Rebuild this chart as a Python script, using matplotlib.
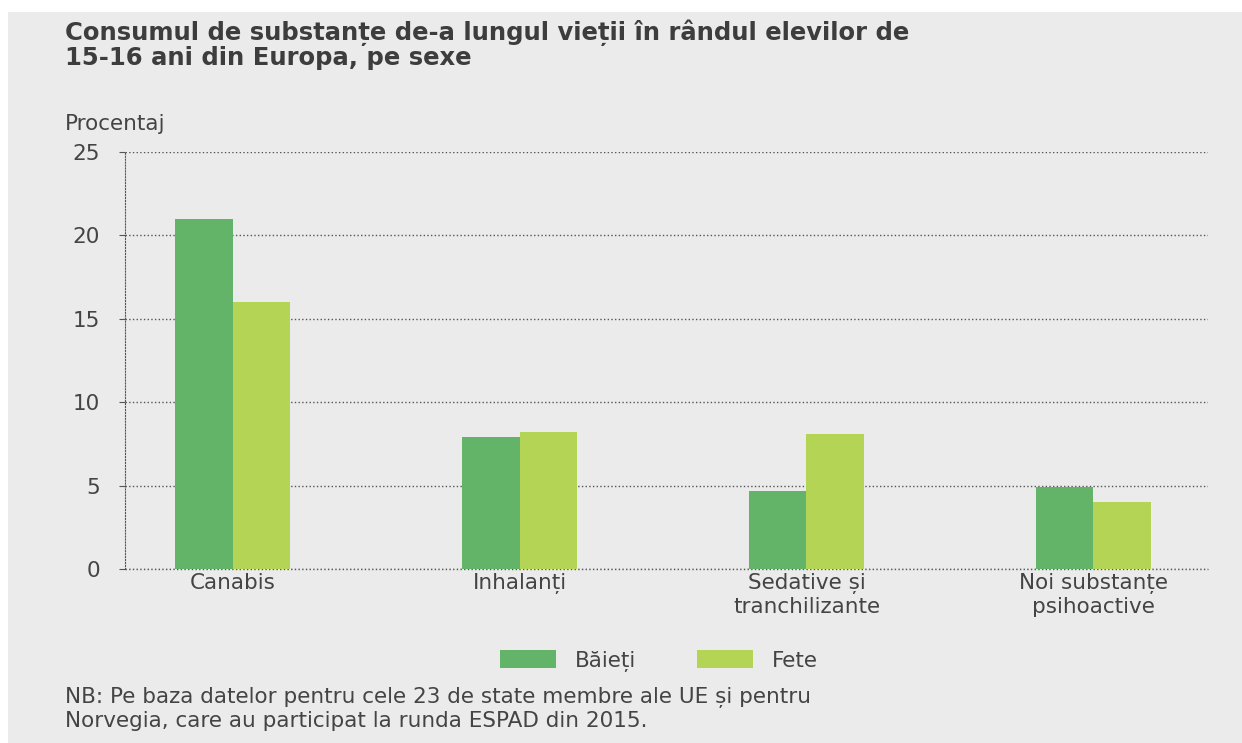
import numpy as np
import matplotlib.pyplot as plt
from matplotlib.patches import Rectangle

categories = ['Canabis', 'Inhalanți', 'Sedative și\ntranchilizante', 'Noi substanțe\npsihoactive']
baieti = [21.0, 7.9, 4.7, 4.9]
fete = [16.0, 8.2, 8.1, 4.0]
series_names = ['Băieți', 'Fete']
yticks = [0, 5, 10, 15, 20, 25]

bg = '#ebebeb'
c_baieti = '#63b469'
c_fete = '#b4d455'
txt = '#444444'
fs = 15.5

plt.rcParams['font.family'] = ['DejaVu Sans']

fig = plt.figure(figsize=(12.42, 7.43), dpi=100)
fig.patch.set_facecolor('white')
fig.patches.append(Rectangle((8 / 1242, 0), 1 - 8 / 1242, 1 - 12 / 743,
                             transform=fig.transFigure, facecolor=bg,
                             edgecolor='none', zorder=-1))

ax = fig.add_axes([125 / 1242, 1 - 569 / 743, (1208 - 125) / 1242, (569 - 152) / 743])
ax.set_facecolor(bg)

x = np.arange(len(categories))
w = 0.2
ax.bar(x - w / 2, baieti, w, color=c_baieti, label=series_names[0], zorder=3)
ax.bar(x + w / 2, fete, w, color=c_fete, label=series_names[1], zorder=3)

ax.set_xlim(-0.376, 3.40)
ax.set_ylim(0, 25)
ax.set_yticks(yticks)
ax.set_xticks(x)
ax.set_xticklabels(categories, fontsize=fs, color=txt, linespacing=1.15)
ax.tick_params(axis='y', labelsize=fs, labelcolor=txt, length=4, color='#555555', pad=14)
ax.tick_params(axis='x', length=0, pad=3)

ax.grid(axis='y', linestyle=':', color='#555555', linewidth=1, zorder=1)
ax.axhline(0, linestyle=':', color='#555555', linewidth=1, zorder=1, clip_on=False)
for s in ['top', 'right', 'bottom']:
    ax.spines[s].set_visible(False)
ax.spines['left'].set_linestyle(':')
ax.spines['left'].set_color('#555555')

fig.text(65 / 1242, 1 - 19 / 743, 'Consumul de substanțe de-a lungul vieții în rândul elevilor de\n15-16 ani din Europa, pe sexe',
         fontsize=17.5, fontweight='bold', color='#3d3d3d', va='top', ha='left', linespacing=1.05)
fig.text(65 / 1242, 1 - 124 / 743, 'Procentaj', fontsize=fs, color=txt, va='center', ha='left')

leg = fig.legend(loc='center', bbox_to_anchor=(659 / 1242, 1 - 661 / 743), ncol=2,
                 frameon=False, fontsize=fs, handlelength=2.6, handleheight=0.9,
                 columnspacing=2.8, handletextpad=0.9)
for t in leg.get_texts():
    t.set_color(txt)

fig.text(65 / 1242, 1 - 709 / 743,
         'NB: Pe baza datelor pentru cele 23 de state membre ale UE și pentru\nNorvegia, care au participat la runda ESPAD din 2015.',
         fontsize=fs, color=txt, va='center', ha='left', linespacing=1.15)

fig.savefig('out.png', dpi=100, facecolor=fig.get_facecolor())
